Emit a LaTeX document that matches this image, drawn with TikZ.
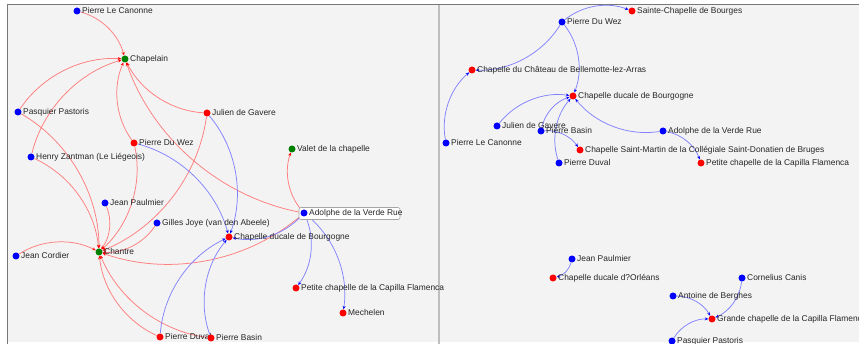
\documentclass[tikz,border=0pt]{standalone}
\usepackage{fontspec}
\setmainfont{Liberation Sans}
\usetikzlibrary{arrows.meta}
\pgfdeclarelayer{bglayer}
\pgfdeclarelayer{edgelayer}
\pgfsetlayers{bglayer,edgelayer,main}
\definecolor{panelbg}{RGB}{243,243,243}
\definecolor{framegray}{RGB}{120,120,120}
\definecolor{dividergray}{RGB}{190,190,190}
\definecolor{redE}{RGB}{255,125,125}
\definecolor{blueE}{RGB}{130,130,255}
\definecolor{dotblue}{RGB}{0,0,255}
\definecolor{dotred}{RGB}{255,0,0}
\definecolor{dotgreen}{RGB}{0,128,0}
\tikzset{
  dot/.style={circle, inner sep=0pt, minimum size=7pt, fill=#1, draw=none},
  lbl/.style={anchor=base west, inner sep=0pt, font=\fontsize{8.4}{10}\selectfont, text=black!85},
  redge/.style={draw=redE, line width=0.75pt, -{Stealth[length=3.5pt,width=3pt,color=red]}, bend left=30, looseness=0.9},
  bedge/.style={draw=blueE, line width=0.75pt, -{Stealth[length=3.5pt,width=3pt,color=blue]}, bend left=30, looseness=0.9},
}
\newcommand\pn[5]{%
  \node[dot=#4] (#1) at (#2,#3) {};
  \node[lbl] (#1-t) at ([shift={(5,3)}]#1.center) {#5};}
\begin{document}
\begin{tikzpicture}[x=1pt,y=-1pt]
\useasboundingbox (0,0) rectangle (859,344);
\begin{pgfonlayer}{bglayer}
  \fill[white] (0,0) rectangle (859,344);
  \fill[panelbg] (8,5) rectangle (438,342);
  \fill[panelbg] (440,5) rectangle (859,342);
  \draw[framegray, line width=1pt] (7,344) -- (7,5) -- (859,5);
  \fill[dividergray] (438,5) rectangle (440,344);
\end{pgfonlayer}

% ---------- left panel ----------
\pn{lc}{77}{11}{dotblue}{Pierre Le Canonne}
\pn{chap}{125}{59}{dotgreen}{Chapelain}
\pn{pp}{18}{112}{dotblue}{Pasquier Pastoris}
\pn{jg}{207}{113}{dotred}{Julien de Gavere}
\pn{dw}{134}{143}{dotred}{Pierre Du Wez}
\pn{hz}{31}{157}{dotblue}{Henry Zantman (Le Liégeois)}
\pn{val}{292}{149}{dotgreen}{Valet de la chapelle}
\pn{jp}{105}{203}{dotblue}{Jean Paulmier}
\pn{gj}{157}{223}{dotblue}{Gilles Joye (van den Abeele)}
\node[draw=black!35, fill=white, rounded corners=2pt, line width=0.6pt, minimum width=101pt, minimum height=12pt, inner sep=0pt] (adbox) at (349.5,213.5) {};
\pn{ad}{304}{213}{dotblue}{Adolphe de la Verde Rue}
\pn{cdb}{229}{237}{dotred}{Chapelle ducale de Bourgogne}
\pn{cha}{99}{252}{dotgreen}{Chantre}
\pn{jc}{16}{256}{dotblue}{Jean Cordier}
\pn{pc}{296}{288}{dotred}{Petite chapelle de la Capilla Flamenca}
\pn{mech}{343}{313}{dotred}{Mechelen}
\pn{pd}{160}{337}{dotred}{Pierre Duval}
\pn{pb}{211}{338}{dotred}{Pierre Basin}

% ---------- right panel ----------
\pn{scb}{632}{11}{dotred}{Sainte-Chapelle de Bourges}
\pn{rdw}{562}{22}{dotblue}{Pierre Du Wez}
\pn{bell}{472}{70}{dotred}{Chapelle du Château de Bellemotte-lez-Arras}
\pn{rcdb}{573}{96}{dotred}{Chapelle ducale de Bourgogne}
\pn{rjg}{497}{126}{dotblue}{Julien de Gavere}
\pn{rpb}{541}{131}{dotblue}{Pierre Basin}
\pn{rlc}{446}{143}{dotblue}{Pierre Le Canonne}
\pn{rad}{663}{131}{dotblue}{Adolphe de la Verde Rue}
\pn{sm}{580}{150}{dotred}{Chapelle Saint-Martin de la Collégiale Saint-Donatien de Bruges}
\pn{rpd}{559}{163}{dotblue}{Pierre Duval}
\pn{rpc}{701}{163}{dotred}{Petite chapelle de la Capilla Flamenca}
\pn{rjp}{572}{259}{dotblue}{Jean Paulmier}
\pn{orl}{553}{278}{dotred}{Chapelle ducale d?Orléans}
\pn{cc}{742}{278}{dotblue}{Cornelius Canis}
\pn{ab}{673}{296}{dotblue}{Antoine de Berghes}
\pn{gc}{712}{319}{dotred}{Grande chapelle de la Capilla Flamenca}
\pn{rpp}{672}{341}{dotblue}{Pasquier Pastoris}

\begin{pgfonlayer}{edgelayer}
  % left: roles
  \foreach \s in {lc,pp,hz,dw,jg,ad} \draw[redge] (\s) to (chap);
  \foreach \s in {pp,hz,dw,jg,jp,gj,jc,pd,pb,ad} \draw[redge] (\s) to (cha);
  \draw[redge] (ad) to (val);
  % left: institutions
  \foreach \s in {dw,jg,pd,pb,ad} \draw[bedge] (\s) to (cdb);
  \draw[bedge] (ad) to (pc);
  \draw[bedge] (ad) to (mech);
  % right
  \draw[bedge] (rdw) to (scb);
  \draw[bedge] (rdw) to (bell);
  \draw[bedge] (rlc) to (bell);
  \foreach \s in {rdw,rjg,rpb,rpd,rad} \draw[bedge] (\s) to (rcdb);
  \draw[bedge] (rpb) to (sm);
  \draw[bedge] (rad) to (rpc);
  \draw[bedge] (rjp) to (orl);
  \foreach \s in {ab,cc,rpp} \draw[bedge] (\s) to (gc);
\end{pgfonlayer}
\end{tikzpicture}
\end{document}
